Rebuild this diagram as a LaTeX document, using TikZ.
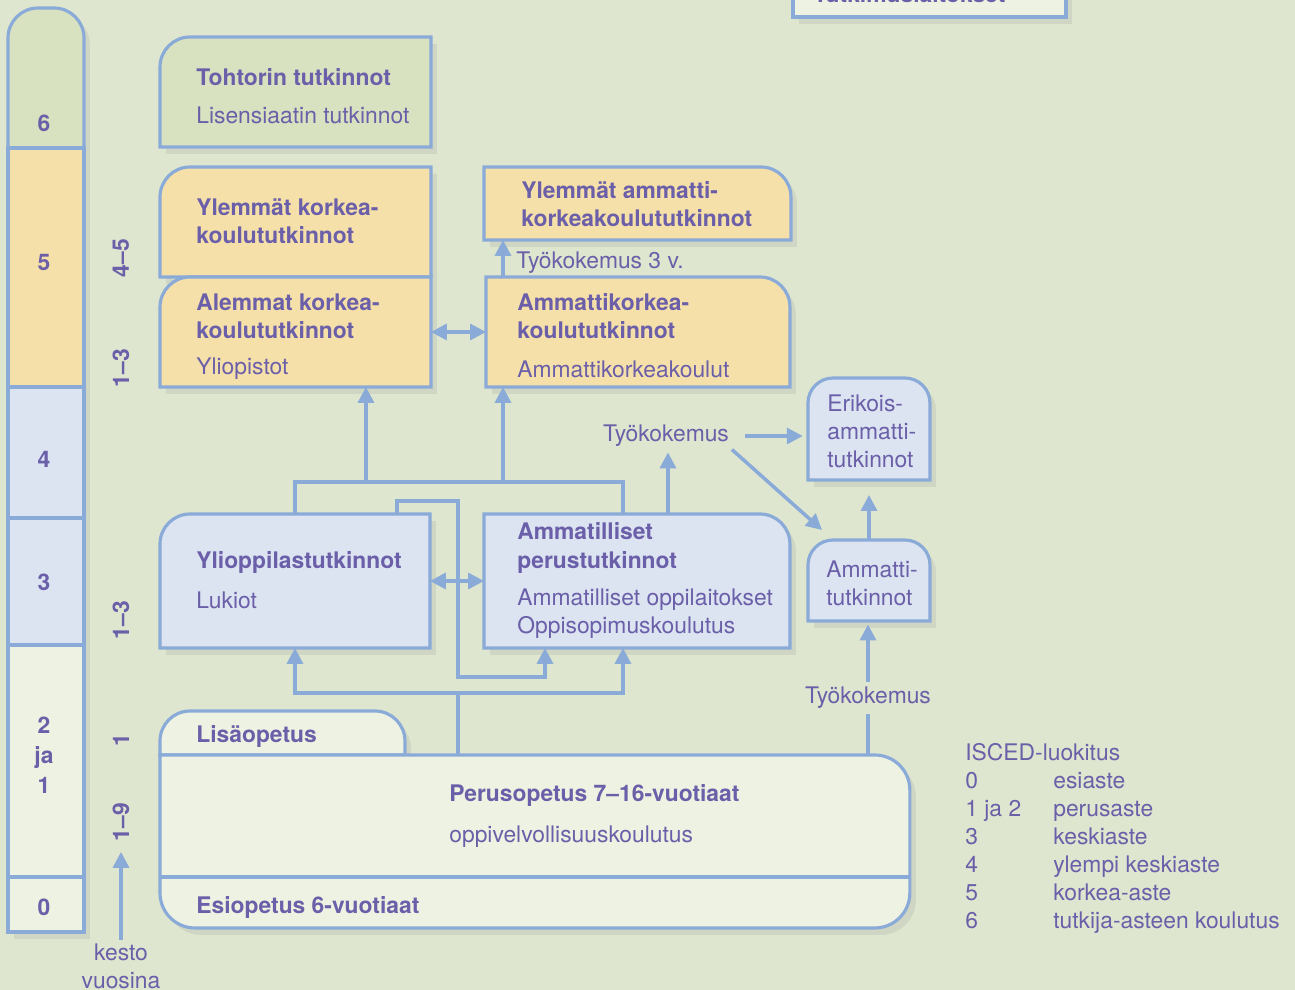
\documentclass[tikz,border=0pt]{standalone}
\usepackage{fontspec}
\setmainfont{TeX Gyre Heros}
\usetikzlibrary{arrows.meta,positioning,shadows}

\definecolor{bgcol}{HTML}{DEE6D0}
\definecolor{linecol}{HTML}{8AAAD8}
\definecolor{txtcol}{HTML}{6A5FA8}
\definecolor{greenbox}{HTML}{D8E2C0}
\definecolor{orangebox}{HTML}{F6E0AA}
\definecolor{bluebox}{HTML}{DCE3F1}
\definecolor{palebox}{HTML}{EEF2E2}

\tikzset{
	frame/.style={draw=none, inner sep=0pt, outer sep=0pt, anchor=north west},
	boxline/.style={draw=linecol, line width=1.8pt, drop shadow={opacity=0.15, shadow xshift=0.12cm, shadow yshift=-0.14cm}},
	title/.style={text=txtcol, font=\bfseries\fontsize{13}{16}\selectfont, align=left, anchor=west, inner sep=0pt},
	plain/.style={text=txtcol, font=\fontsize{13}{16}\selectfont, align=left, anchor=west, inner sep=0pt},
	dur/.style={title, anchor=center, rotate=90},
	link/.style={draw=linecol, line width=2pt},
	flow/.style={link, -{Triangle[length=9pt, width=9pt]}},
	twoway/.style={link, {Triangle[length=9pt, width=9pt]}-{Triangle[length=9pt, width=9pt]}}
}

\begin{document}
\begin{tikzpicture}[x=0.02cm, y=-0.02cm]
	\fill[bgcol] (0,0) rectangle (1295,990);
	\useasboundingbox (0,0) rectangle (1295,990);

	% box cut off at the top
	\filldraw[boxline, fill=palebox] (793,-60) rectangle (1066,17);

	% level column
	\filldraw[boxline, fill=greenbox] (8,148) -- (8,38) arc[start angle=180, end angle=90, radius=0.6cm] -- (54,8) arc[start angle=90, end angle=0, radius=0.6cm] -- (84,148) -- cycle;
	\filldraw[boxline, fill=orangebox] (8,148) rectangle (84,387);
	\filldraw[boxline, fill=bluebox] (8,387) rectangle (84,518);
	\filldraw[boxline, fill=bluebox] (8,518) rectangle (84,645);
	\filldraw[boxline, fill=palebox] (8,645) rectangle (84,877);
	\filldraw[boxline, fill=palebox] (8,877) rectangle (84,932);

	% boxes
	\node[frame, minimum width=5.42cm, minimum height=2.2cm] (toh) at (160,37) {};
	\filldraw[boxline, fill=greenbox] (toh.south west) -- ([yshift=-0.6cm]toh.north west) arc[start angle=180, end angle=90, radius=0.6cm] -- (toh.north east) -- (toh.south east) -- cycle;

	\node[frame, minimum width=5.42cm, minimum height=2.2cm] (ylk) at (160,167) {};
	\filldraw[boxline, fill=orangebox] (ylk.south west) -- ([yshift=-0.6cm]ylk.north west) arc[start angle=180, end angle=90, radius=0.6cm] -- (ylk.north east) -- (ylk.south east) -- cycle;

	\node[frame, minimum width=5.42cm, minimum height=2.2cm] (alk) at (160,277) {};
	\filldraw[boxline, fill=orangebox] (alk.south west) -- ([yshift=-0.6cm]alk.north west) arc[start angle=180, end angle=90, radius=0.6cm] -- (alk.north east) -- (alk.south east) -- cycle;

	\node[frame, minimum width=6.14cm, minimum height=1.46cm] (yak) at (484,167) {};
	\filldraw[boxline, fill=orangebox] (yak.south west) -- (yak.north west) -- ([xshift=-0.6cm]yak.north east) arc[start angle=90, end angle=0, radius=0.6cm] -- (yak.south east) -- cycle;

	\node[frame, minimum width=6.08cm, minimum height=2.2cm] (akk) at (486,277) {};
	\filldraw[boxline, fill=orangebox] (akk.south west) -- (akk.north west) -- ([xshift=-0.6cm]akk.north east) arc[start angle=90, end angle=0, radius=0.6cm] -- (akk.south east) -- cycle;

	\node[frame, minimum width=5.4cm, minimum height=2.68cm] (ylio) at (160,514) {};
	\filldraw[boxline, fill=bluebox] (ylio.south west) -- ([yshift=-0.6cm]ylio.north west) arc[start angle=180, end angle=90, radius=0.6cm] -- (ylio.north east) -- (ylio.south east) -- cycle;

	\node[frame, minimum width=6.12cm, minimum height=2.68cm] (amp) at (484,514) {};
	\filldraw[boxline, fill=bluebox] (amp.south west) -- (amp.north west) -- ([xshift=-0.6cm]amp.north east) arc[start angle=90, end angle=0, radius=0.6cm] -- (amp.south east) -- cycle;

	\node[frame, minimum width=2.44cm, minimum height=2.04cm] (eri) at (808,378) {};
	\filldraw[boxline, fill=bluebox] (eri.south west) -- ([yshift=-0.5cm]eri.north west) arc[start angle=180, end angle=90, radius=0.5cm] -- ([xshift=-0.5cm]eri.north east) arc[start angle=90, end angle=0, radius=0.5cm] -- (eri.south east) -- cycle;

	\node[frame, minimum width=2.44cm, minimum height=1.62cm] (amt) at (808,540) {};
	\filldraw[boxline, fill=bluebox] (amt.south west) -- ([yshift=-0.5cm]amt.north west) arc[start angle=180, end angle=90, radius=0.5cm] -- ([xshift=-0.5cm]amt.north east) arc[start angle=90, end angle=0, radius=0.5cm] -- (amt.south east) -- cycle;

	\node[frame, minimum width=4.9cm, minimum height=0.88cm] (lisa) at (160,711) {};
	\filldraw[boxline, fill=palebox] (lisa.south west) -- ([yshift=-0.6cm]lisa.north west) arc[start angle=180, end angle=90, radius=0.6cm] -- ([xshift=-0.6cm]lisa.north east) arc[start angle=90, end angle=0, radius=0.6cm] -- (lisa.south east) -- cycle;

	\node[frame, minimum width=15cm, minimum height=3.46cm] (per) at (160,755) {};
	\filldraw[boxline, fill=palebox] (per.north west) -- ([xshift=-0.7cm]per.north east) arc[start angle=90, end angle=0, radius=0.7cm] -- ([yshift=0.7cm]per.south east) arc[start angle=0, end angle=-90, radius=0.7cm] -- ([xshift=0.7cm]per.south west) arc[start angle=270, end angle=180, radius=0.7cm] -- cycle;
	\draw[link] ([yshift=1.02cm]per.south west) -- ([yshift=1.02cm]per.south east);

	% texts
	\node[title, anchor=base west] (tlk) at (813,3) {Tutkimuslaitokset};

	\node[title, anchor=center] (l6) at (44,123) {6};
	\node[title, anchor=center] (l5) at (44,263) {5};
	\node[title, anchor=center] (l4) at (44,459) {4};
	\node[title, anchor=center] (l3) at (44,582) {3};
	\node[title, anchor=center, align=center, font=\bfseries\fontsize{13}{17}\selectfont] (l21) at (44,755) {2\\ja\\1};
	\node[title, anchor=center] (l0) at (44,907) {0};

	\node[dur] (d45) at (121,258) {4–5};
	\node[dur] (d13a) at (121,368) {1–3};
	\node[dur] (d13b) at (121,620) {1–3};
	\node[dur] (d1) at (121,740) {1};
	\node[dur] (d19) at (121,822) {1–9};
	\node[plain, anchor=center, align=center] (kesto) at (121,966) {kesto\\vuosina};

	\node[title] (toh1) at (196,77) {Tohtorin tutkinnot};
	\node[plain] (toh2) at (196,115) {Lisensiaatin tutkinnot};
	\node[title] (ylk1) at (196,221) {Ylemmät korkea-\\koulututkinnot};
	\node[title] (alk1) at (196,316) {Alemmat korkea-\\koulututkinnot};
	\node[plain] (alk2) at (196,369) {Yliopistot};
	\node[title] (yak1) at (521,204) {Ylemmät ammatti-\\korkeakoulututkinnot};
	\node[plain] (tk3) at (516,263) {Työkokemus 3 v.};
	\node[title] (akk1) at (517,316) {Ammattikorkea-\\koulututkinnot};
	\node[plain] (akk2) at (517,369) {Ammattikorkeakoulut};
	\node[plain, anchor=center] (tk1) at (666,436) {Työkokemus};
	\node[plain] (eri1) at (827,431) {Erikois-\\ammatti-\\tutkinnot};
	\node[title] (ylio1) at (196,562) {Ylioppilastutkinnot};
	\node[plain] (ylio2) at (196,600) {Lukiot};
	\node[title] (amp1) at (517,548) {Ammatilliset\\perustutkinnot};
	\node[plain] (amp2) at (517,614) {Ammatilliset oppilaitokset\\Oppisopimuskoulutus};
	\node[plain] (amt1) at (826,583) {Ammatti-\\tutkinnot};
	\node[plain, anchor=center] (tk2) at (868,698) {Työkokemus};
	\node[title] (lisa1) at (196,736) {Lisäopetus};
	\node[title] (per1) at (449,795) {Perusopetus 7–16-vuotiaat};
	\node[plain] (per2) at (449,837) {oppivelvollisuuskoulutus};
	\node[title] (esi1) at (196,907) {Esiopetus 6-vuotiaat};

	\node[plain, anchor=base west] (isced) at (965,760) {\begin{tabular}[t]{@{}p{1.76cm}@{}l@{}}
		\multicolumn{2}{@{}l@{}}{ISCED-luokitus}\\
		0 & esiaste\\
		1 ja 2 & perusaste\\
		3 & keskiaste\\
		4 & ylempi keskiaste\\
		5 & korkea-aste\\
		6 & tutkija-asteen koulutus
	\end{tabular}};

	% connectors
	\coordinate (ub) at (0,482);
	\coordinate (kink) at (458,501);
	\coordinate (kinkb) at (458,677);
	\coordinate (lbm) at (458,693);
	\coordinate (ampA) at ([xshift=-0.28cm]amp.north);
	\coordinate (ampB) at ([xshift=-0.28cm]amp.south);
	\coordinate (ampin) at ([xshift=1.22cm]amp.south west);
	\coordinate (ampup) at ([xshift=0.62cm]amp.north);
	\coordinate (alkin) at ([xshift=4.12cm]alk.south west);
	\coordinate (akkin) at ([xshift=0.34cm]akk.south west);

	\draw[link] (ylio.north) |- (ampA |- ub) -- (ampA);
	\draw[flow] (alkin |- ub) -- (alkin);
	\draw[flow] (akkin |- ub) -- (akkin);
	\draw[flow] ([xshift=0.34cm]akk.north west) -- ([xshift=0.38cm]yak.south west);

	\draw[twoway] (alk.east) -- (akk.west);
	\draw[twoway] (ylio.east) -- (amp.west);

	\draw[flow] ([xshift=4.74cm]ylio.north west) |- (kink) -- (kinkb) -| (ampin);

	\draw[link] (per.north -| lbm) -- (lbm);
	\draw[flow] (lbm) -| (ylio.south);
	\draw[flow] (lbm) -| (ampB);

	\draw[flow, shorten >=3pt] (ampup) -- (ampup |- tk1.south);
	\draw[flow, shorten <=9pt, shorten >=3pt] (tk1.east) -- (tk1.east -| eri.west);
	\draw[flow, shorten <=2pt] (tk1.south east) -- ([xshift=0.28cm, yshift=0.2cm]amt.north west);
	\draw[flow, shorten >=0.3cm] (amt.north) -- (amt.north |- eri.south);

	\draw[link, shorten >=3pt] (per.north -| tk2.south) -- (tk2.south);
	\draw[flow, shorten <=3pt, shorten >=2pt] (tk2.north) -- (tk2.north |- amt.south);

	\draw[flow, shorten <=2pt, shorten >=6pt] (kesto.north) -- (d19.west);
\end{tikzpicture}
\end{document}
